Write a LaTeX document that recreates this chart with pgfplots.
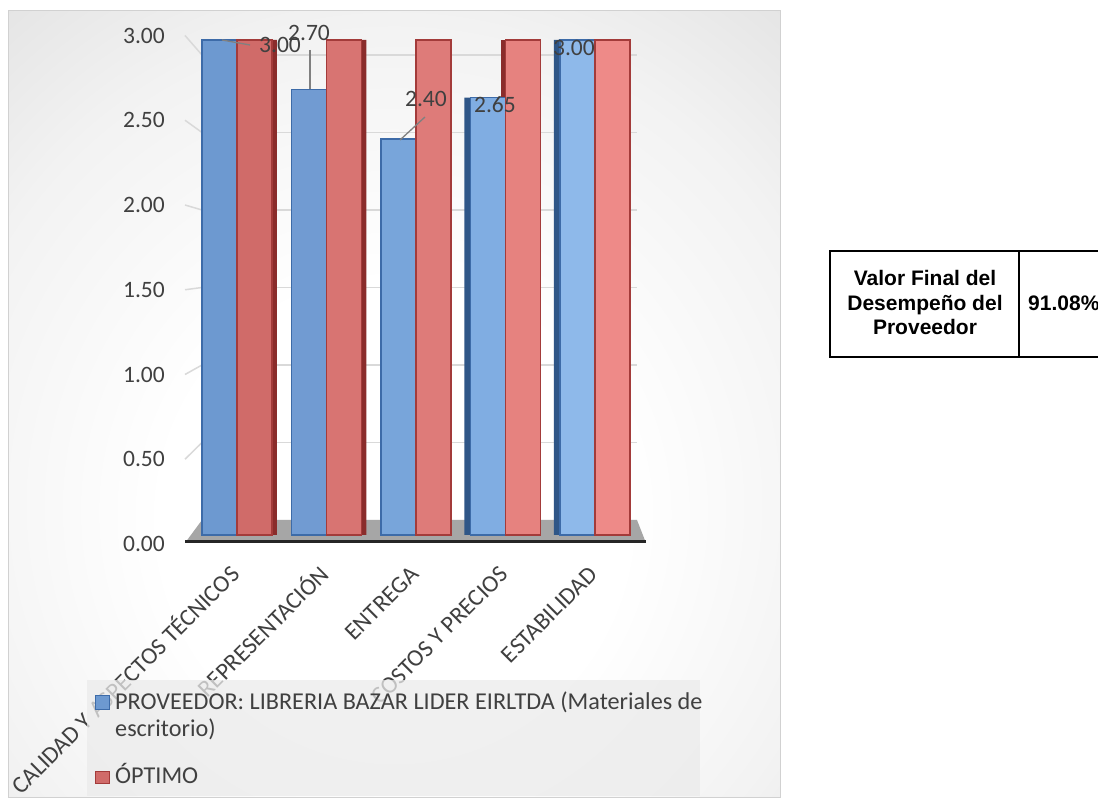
\documentclass[border=0pt]{standalone}
\usepackage{pgfplots}
\pgfplotsset{compat=1.18}
\usepackage{pgfplotstable}
\usepackage{fontspec}
\setmainfont{Carlito}
\newfontfamily\tablefont{Liberation Sans}

% bar fills get lighter towards the right, as in a lit 3-D chart
\definecolor{blue0}{HTML}{6D99D0}
\definecolor{blue1}{HTML}{719BD2}
\definecolor{blue2}{HTML}{78A5DA}
\definecolor{blue3}{HTML}{80ADE2}
\definecolor{blue4}{HTML}{8EB9EA}
\definecolor{red0}{HTML}{D06B69}
\definecolor{red1}{HTML}{D87472}
\definecolor{red2}{HTML}{DE7B79}
\definecolor{red3}{HTML}{E6827F}
\definecolor{red4}{HTML}{EE8A88}
\definecolor{blueE}{HTML}{3D6BA8}
\definecolor{blueS}{HTML}{2F5687}
\definecolor{redE}{HTML}{A33B3A}
\definecolor{redS}{HTML}{8A2C2B}
\definecolor{textc}{HTML}{404040}
\definecolor{gridc}{HTML}{D9D9D9}
\definecolor{floorc}{HTML}{A6A6A6}
\definecolor{legc}{HTML}{EBEBEB}

\pgfdeclareradialshading{chartbg}{\pgfpoint{0bp}{-9bp}}{%
  color(0bp)=(white); color(15bp)=(white); color(30bp)=(black!5);
  color(42bp)=(black!12); color(52bp)=(black!17); color(65bp)=(black!23);
  color(80bp)=(black!27)}

% supplier scores and the optimum, per criterion
\pgfplotstableread{
x y dx dy
0 3.00 43 -5
1 2.70 -17.5 57
2 2.40 10 40
3 2.65 -10.5 -7
4 3.00 -21 -8
}\provtable
\pgfplotstableread{
x y
0 3.00
1 3.00
2 3.00
3 3.00
4 3.00
}\optimotable

\pgfplotsset{
  provbar/.style={ybar, bar width=35pt, bar shift=-17.5pt, fill=#1,
    draw=blueE, line width=1.5pt},
  optbar/.style={ybar, bar width=35pt, bar shift=17.5pt, fill=#1,
    draw=redE, line width=1.5pt}}

\begin{document}
\begin{tikzpicture}
\path[use as bounding box] (0pt,0pt) rectangle (1098pt,805pt);
\begin{scope}[x=1pt,y=1pt]
  \shade[shading=chartbg] (8,7) rectangle (780,794);
  \draw[black!18, line width=1pt] (8,7) rectangle (780,794);
\end{scope}

% back wall with its gridlines
\begin{axis}[name=wall, at={(202pt,285pt)}, anchor=south west, scale only axis,
  width=435pt, height=465pt, xmin=0, xmax=1, ymin=0, ymax=3,
  xtick=\empty, ytick={0.5,1,1.5,2,2.5,3}, yticklabels={},
  major tick length=0pt, axis line style={draw=none},
  ymajorgrids, grid style={color=gridc, line width=1.5pt}]
\end{axis}

\begin{scope}[x=1pt,y=1pt]
  % perspective lines from the value labels to the wall
  \foreach \v in {0.5,1,1.5,2,2.5,3}
    \draw[gridc, line width=1.5pt] (185,{261+169.5*\v}) -- (202,{285+155*\v});
  % floor
  \fill[floorc] (185,262) -- (646,262) -- (637,285) -- (202,285) -- cycle;
  \draw[black!85, line width=3pt] (185,263.5) -- (646,263.5);
\end{scope}

% value axis labels
\begin{axis}[at={(185pt,261pt)}, anchor=south west, scale only axis,
  width=17pt, height=508.5pt, xmin=0, xmax=1, ymin=0, ymax=3,
  xtick=\empty, ytick={0,0.5,1,1.5,2,2.5,3},
  axis line style={draw=none}, major tick length=0pt,
  yticklabel style={text=textc, font=\fontsize{23.5}{28}\selectfont,
    anchor=east, inner sep=0pt, xshift=-20pt,
    /pgf/number format/fixed, /pgf/number format/fixed zerofill,
    /pgf/number format/precision=2, /pgf/number format/assume math mode=true}]
\end{axis}

% bars
\begin{axis}[name=bars, at={(185pt,270pt)}, anchor=south west, scale only axis,
  width=461pt, height=495pt, xmin=-0.581, xmax=4.570, ymin=0, ymax=3,
  axis line style={draw=none}, ytick=\empty, xtick={0,1,2,3,4},
  xticklabels={CALIDAD Y ASPECTOS TÉCNICOS, REPRESENTACIÓN, ENTREGA,
    COSTOS Y PRECIOS, ESTABILIDAD},
  major tick length=0pt,
  xticklabel style={text=textc, font=\fontsize{24}{28}\selectfont,
    xshift=4pt, yshift=-41pt, rotate=45, anchor=base east, inner sep=0pt},
  clip=false]
  % side faces
  \addplot[ybar, bar width=5pt, bar shift=37.5pt, fill=redS, draw=none]
    table[x=x, y=y, restrict x to domain=0:1] {\optimotable};
  \addplot[ybar, bar width=4pt, bar shift=-2pt, fill=redS, draw=none]
    table[x=x, y=y, restrict x to domain=3:3] {\optimotable};
  \addplot[ybar, bar width=6pt, bar shift=-38pt, fill=blueS, draw=none]
    table[x=x, y=y, restrict x to domain=3:4] {\provtable};
  % front faces, supplier
  \addplot[provbar=blue0] table[x=x, y=y, restrict x to domain=0:0] {\provtable};
  \addplot[provbar=blue1] table[x=x, y=y, restrict x to domain=1:1] {\provtable};
  \addplot[provbar=blue2] table[x=x, y=y, restrict x to domain=2:2] {\provtable};
  \addplot[provbar=blue3] table[x=x, y=y, restrict x to domain=3:3] {\provtable};
  \addplot[provbar=blue4] table[x=x, y=y, restrict x to domain=4:4] {\provtable};
  % front faces, optimum
  \addplot[optbar=red0] table[x=x, y=y, restrict x to domain=0:0] {\optimotable};
  \addplot[optbar=red1] table[x=x, y=y, restrict x to domain=1:1] {\optimotable};
  \addplot[optbar=red2] table[x=x, y=y, restrict x to domain=2:2] {\optimotable};
  \addplot[optbar=red3] table[x=x, y=y, restrict x to domain=3:3] {\optimotable};
  \addplot[optbar=red4] table[x=x, y=y, restrict x to domain=4:4] {\optimotable};
  % data labels
  \addplot[draw=none, mark=none, point meta=y,
    visualization depends on={\thisrow{dx} \as \dx},
    visualization depends on={\thisrow{dy} \as \dy},
    nodes near coords,
    every node near coord/.append style={anchor=center, text=textc,
      font=\fontsize{23.5}{28}\selectfont, xshift=\dx pt, yshift=\dy pt,
      /pgf/number format/fixed, /pgf/number format/fixed zerofill,
      /pgf/number format/precision=2, /pgf/number format/assume math mode=true}]
    table[x=x, y=y] {\provtable};
\end{axis}

\begin{scope}[x=1pt,y=1pt]
  % leader lines
  \draw[black!50, line width=1.3pt] (222,765) -- (250,760);
  \draw[black!50, line width=1.3pt] (310,755) -- (310,716);
  \draw[black!50, line width=1.3pt] (400,665) -- (425,688);
  % legend
  \fill[legc, opacity=0.75] (87,125) rectangle (700,9);
  \filldraw[fill=blue0, draw=blueE, line width=1.5pt] (95.5,109.5) rectangle (109.5,95.5);
  \filldraw[fill=red0, draw=redE, line width=1.5pt] (95.5,33.5) rectangle (109.5,21.5);
  \node[anchor=base west, inner sep=0pt, text=textc, font=\fontsize{24.2}{29}\selectfont]
    at (115,95) {PROVEEDOR: LIBRERIA BAZAR LIDER EIRLTDA (Materiales de};
  \node[anchor=base west, inner sep=0pt, text=textc, font=\fontsize{24.2}{29}\selectfont]
    at (115,68) {escritorio)};
  \node[anchor=base west, inner sep=0pt, text=textc, font=\fontsize{24.2}{29}\selectfont]
    at (115,21) {ÓPTIMO};
  % summary table
  \draw[black, line width=2pt] (830,554) rectangle (1112,448);
  \draw[black, line width=2pt] (1019,554) -- (1019,448);
  \node[align=center, inner sep=0pt, font=\tablefont\bfseries\fontsize{21}{24.5}\selectfont]
    at (925,502) {Valor Final del\\Desempeño del\\Proveedor};
  \node[anchor=west, inner sep=0pt, font=\tablefont\bfseries\fontsize{21}{24.5}\selectfont]
    at (1028,502) {91.08\%};
\end{scope}
\end{tikzpicture}
\end{document}
